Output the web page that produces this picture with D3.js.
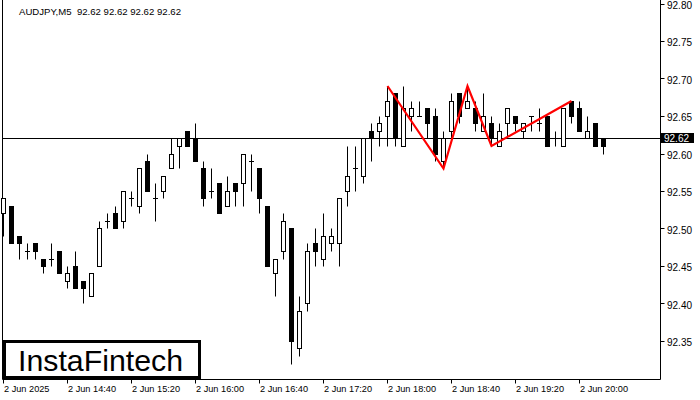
<!DOCTYPE html>
<html><head><meta charset="utf-8">
<script src="https://cdn.jsdelivr.net/npm/d3@7"></script>
<style>body{margin:0;background:#fff}svg{display:block}text{font-family:"Liberation Sans",Arial,sans-serif}</style>
</head><body><svg id="c" width="700" height="400"></svg>
<script>
const title = "AUDJPY,M5  92.62 92.62 92.62 92.62";
const candleIdx = d3.range(76);
const opens  = [92.52,92.53,92.49,92.47,92.48,92.46,92.46,92.47,92.43,92.45,92.43,92.41,92.45,92.51,92.52,92.51,92.54,92.53,92.59,92.54,92.55,92.58,92.61,92.63,92.62,92.58,92.55,92.56,92.53,92.56,92.56,92.59,92.58,92.53,92.44,92.47,92.50,92.34,92.40,92.48,92.46,92.48,92.48,92.55,92.58,92.57,92.63,92.63,92.65,92.68,92.61,92.65,92.65,92.66,92.65,92.59,92.63,92.68,92.66,92.66,92.63,92.64,92.61,92.64,92.65,92.63,92.65,92.64,92.65,92.62,92.61,92.67,92.66,92.62,92.64,92.62];
const highs  = [92.54,92.53,92.49,92.48,92.48,92.46,92.48,92.47,92.45,92.47,92.43,92.44,92.51,92.52,92.53,92.55,92.55,92.58,92.60,92.56,92.57,92.62,92.62,92.63,92.64,92.59,92.58,92.56,92.57,92.56,92.60,92.60,92.58,92.53,92.46,92.52,92.50,92.41,92.48,92.50,92.52,92.50,92.54,92.61,92.61,92.62,92.64,92.65,92.69,92.68,92.69,92.67,92.67,92.66,92.66,92.63,92.68,92.68,92.69,92.67,92.68,92.65,92.64,92.66,92.65,92.64,92.65,92.66,92.65,92.63,92.66,92.67,92.67,92.65,92.64,92.62];
const lows   = [92.49,92.48,92.46,92.46,92.46,92.44,92.45,92.44,92.42,92.42,92.40,92.41,92.45,92.50,92.50,92.50,92.53,92.52,92.55,92.51,92.54,92.58,92.58,92.61,92.59,92.53,92.54,92.52,92.53,92.53,92.53,92.55,92.52,92.45,92.41,92.46,92.32,92.33,92.39,92.45,92.45,92.47,92.45,92.53,92.55,92.56,92.59,92.61,92.61,92.61,92.61,92.63,92.65,92.62,92.59,92.58,92.62,92.64,92.66,92.63,92.63,92.61,92.61,92.62,92.63,92.62,92.63,92.63,92.61,92.61,92.61,92.64,92.63,92.62,92.61,92.60];
const closes = [92.54,92.48,92.48,92.47,92.47,92.45,92.46,92.44,92.44,92.42,92.42,92.44,92.50,92.51,92.50,92.55,92.54,92.58,92.55,92.54,92.57,92.60,92.62,92.61,92.59,92.54,92.55,92.52,92.55,92.55,92.60,92.59,92.54,92.45,92.46,92.51,92.35,92.39,92.47,92.47,92.49,92.49,92.54,92.57,92.58,92.62,92.62,92.64,92.67,92.62,92.66,92.66,92.65,92.64,92.60,92.62,92.67,92.65,92.67,92.64,92.65,92.62,92.63,92.66,92.64,92.64,92.65,92.64,92.61,92.62,92.66,92.65,92.63,92.63,92.61,92.61];
const timeTickIdx = [0,8,16,24,32,40,48,56,64,72];
const timeTickLabels = ["2 Jun 2025","2 Jun 14:40","2 Jun 15:20","2 Jun 16:00","2 Jun 16:40","2 Jun 17:20","2 Jun 18:00","2 Jun 18:40","2 Jun 19:20","2 Jun 20:00"];
const priceTicks = [92.35,92.40,92.45,92.50,92.55,92.60,92.65,92.70,92.75,92.80];
const currentPrice = 92.62;
const patternIdx = [48,55,58,61,71];
const patternPrice = [92.69,92.58,92.69,92.61,92.67];

const svg = d3.select("#c");
const x = d3.scaleLinear().domain([0,75]).range([3.5,603.5]);
const y = d3.scaleLinear().domain([92.35,92.80]).range([341,3.5]);
const fy = v => Math.round(y(v)) + 0.5;

const plotL = 2.5, plotR = 660.5, plotB = 379.5;
// frame
svg.append("path").attr("d",`M${plotL},0V${plotB}H${plotR}V0`).attr("fill","none").attr("stroke","#000").attr("stroke-width",1);

// title
svg.append("text").attr("x",19).attr("y",14.5).attr("font-size",9.6).attr("fill","#000").attr("xml:space","preserve").style("white-space","pre").text(title);

// current price line
svg.append("line").attr("x1",plotL).attr("x2",plotR).attr("y1",y(currentPrice)).attr("y2",y(currentPrice)).attr("stroke","#000").attr("stroke-width",1);

// candles
const g = svg.append("g");
candleIdx.forEach(i => {
  const o = opens[i], h = highs[i], l = lows[i], c = closes[i];
  const cx = x(i);
  g.append("line").attr("x1",cx).attr("x2",cx).attr("y1",fy(h)).attr("y2",fy(l)).attr("stroke","#000").attr("stroke-width",1);
  if (Math.abs(o - c) < 1e-9) {
    g.append("line").attr("x1",cx-2.5).attr("x2",cx+2.5).attr("y1",fy(c)).attr("y2",fy(c)).attr("stroke","#000").attr("stroke-width",1);
  } else {
    const top = fy(Math.max(o,c)), bot = fy(Math.min(o,c));
    g.append("rect").attr("x",cx-2).attr("width",4).attr("y",top).attr("height",bot-top)
      .attr("fill", c > o ? "#fff" : "#000").attr("stroke","#000").attr("stroke-width",1);
  }
});

// pattern line
svg.append("path")
  .attr("d", d3.line().x(d => x(d)).y((d,j) => y(patternPrice[j]))(patternIdx))
  .attr("fill","none").attr("stroke","#ff0000").attr("stroke-width",2.2);

// y axis
priceTicks.forEach(p => {
  svg.append("line").attr("x1",plotR).attr("x2",plotR+4).attr("y1",fy(p)).attr("y2",fy(p)).attr("stroke","#000");
  svg.append("text").attr("x",667).attr("y",y(p)+5).attr("font-size",10).attr("fill","#000").text(p.toFixed(2));
});
// current price label
svg.append("rect").attr("x",661).attr("y",y(currentPrice)-5.5).attr("width",33).attr("height",10).attr("fill","#000");
svg.append("text").attr("x",664).attr("y",y(currentPrice)+3.8).attr("font-size",10).attr("fill","#fff").text(currentPrice.toFixed(2));

// x axis
timeTickIdx.forEach((k,j) => {
  const tx = Math.floor(x(k)) + 0.5;
  svg.append("line").attr("x1",tx).attr("x2",tx).attr("y1",plotB).attr("y2",plotB+4).attr("stroke","#000");
  svg.append("text").attr("x",tx+0.5).attr("y",392).attr("font-size",9.2).attr("fill","#000").text(timeTickLabels[j]);
});

// logo
svg.append("rect").attr("x",4.5).attr("y",341.5).attr("width",195).attr("height",36).attr("fill","#fff").attr("stroke","#000").attr("stroke-width",3);
svg.append("text").attr("x",18).attr("y",371).attr("font-size",29).attr("fill","#000")
  .attr("textLength",165).attr("lengthAdjust","spacingAndGlyphs").text("InstaFintech");
</script></body></html>
